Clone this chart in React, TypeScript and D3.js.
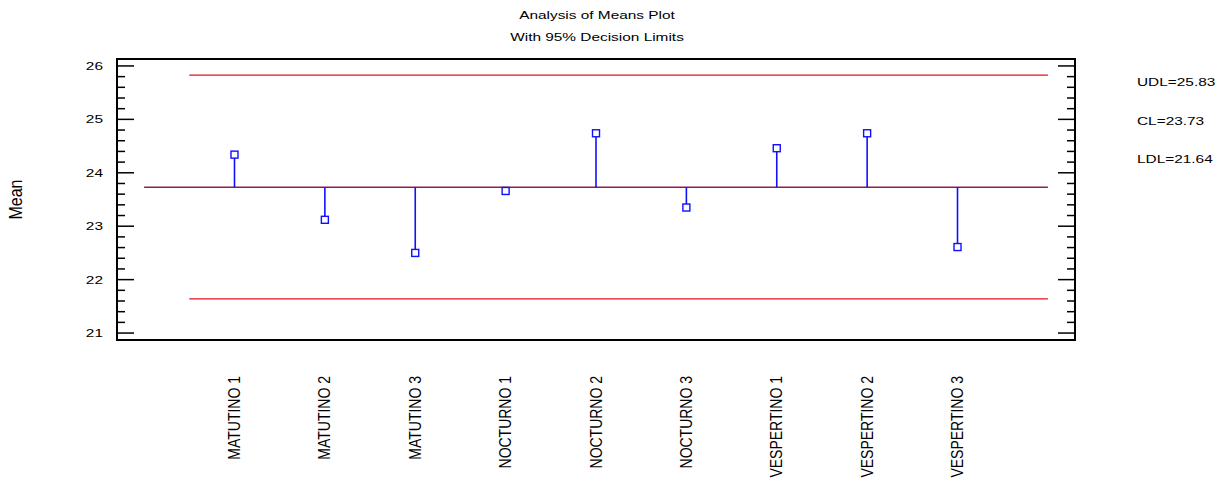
import React from "react";
import * as d3 from "d3";

const categories = [
  "MATUTINO 1", "MATUTINO 2", "MATUTINO 3",
  "NOCTURNO 1", "NOCTURNO 2", "NOCTURNO 3",
  "VESPERTINO 1", "VESPERTINO 2", "VESPERTINO 3",
];
const means = [24.34, 23.12, 22.5, 23.66, 24.74, 23.35, 24.46, 24.74, 22.61];
const UDL = 25.83;
const CL = 23.73;
const LDL = 21.64;
const yTickValues = [21, 22, 23, 24, 25, 26];
const limitLabels = [
  { name: "UDL", value: UDL },
  { name: "CL", value: CL },
  { name: "LDL", value: LDL },
];

const W = 1230;
const H = 485;
const FONT = "'Liberation Sans', Arial, sans-serif";
const SX = 1.4;

const left = 117;
const right = 1075;
const top = 59;
const bottom = 340;

const x = d3.scaleLinear().domain([-1.3, 9.3]).range([left, right]);
const y = d3.scaleLinear().domain([20.87, 26.13]).range([bottom, top]);

function SText({ x, y, anchor = "start", size = 11, sx = SX, children }: any) {
  return (
    <g transform={`translate(${x},${y}) scale(${sx},1)`}>
      <text textAnchor={anchor} fontSize={size} fontFamily={FONT} fill="#000">
        {children}
      </text>
    </g>
  );
}

export default function App() {
  const minor = d3.range(21, 26.001, 0.2).map((v) => +v.toFixed(1));
  const isMajor = (v: number) => Math.abs(v - Math.round(v)) < 1e-6;
  return (
    <svg width={W} height={H} style={{ position: "absolute", left: 0, top: 0, background: "#fff" }}>
      <rect x={0} y={0} width={W} height={H} fill="#fff" />
      {/* titles */}
      <SText x={597} y={19} anchor="middle">Analysis of Means Plot</SText>
      <SText x={597} y={41} anchor="middle">With 95% Decision Limits</SText>

      {/* frame */}
      <rect x={left} y={top} width={right - left} height={bottom - top} fill="none" stroke="#000" strokeWidth={2} />

      {/* ticks */}
      {minor.map((v) => {
        const len = isMajor(v) ? 17 : 8;
        return (
          <g key={v}>
            <line x1={left} x2={left + len} y1={y(v)} y2={y(v)} stroke="#000" strokeWidth={1.5} />
            <line x1={right - len} x2={right} y1={y(v)} y2={y(v)} stroke="#000" strokeWidth={1.5} />
          </g>
        );
      })}
      {yTickValues.map((v) => (
        <SText key={v} x={103} y={y(v) + 4}
          anchor="end">{String(v)}</SText>
      ))}

      {/* axis label */}
      <g transform={`translate(${22},${(top + bottom) / 2}) scale(1.1,1) rotate(-90)`}>
        <text textAnchor="middle" fontSize={16} fontFamily={FONT}>Mean</text>
      </g>

      {/* limit lines */}
      <line x1={x(-0.5)} x2={x(9)} y1={y(UDL)} y2={y(UDL)} stroke="#e0101a" strokeWidth={1.2} />
      <line x1={x(-0.5)} x2={x(9)} y1={y(LDL)} y2={y(LDL)} stroke="#e0101a" strokeWidth={1.2} />
      <line x1={x(-1)} x2={x(9)} y1={y(CL)} y2={y(CL)} stroke="#8a2050" strokeWidth={1.6} />

      {/* stems and markers */}
      {means.map((m, i) => {
        const cx = x(i);
        const cy = y(m);
        const s = 7;
        return (
          <g key={i}>
            <line x1={cx} x2={cx} y1={y(CL)} y2={m > CL ? cy + s / 2 : cy - s / 2} stroke="#1010ff" strokeWidth={1.6} />
            <rect x={cx - s / 2} y={cy - s / 2} width={s} height={s} fill="#fff" stroke="#1010ff" strokeWidth={1.4} />
          </g>
        );
      })}

      {/* category labels */}
      {categories.map((c, i) => (
        <g key={c} transform={`translate(${x(i) + 5.5},${376}) scale(1.17,1) rotate(-90)`}>
          <text textAnchor="end" fontSize={14} fontFamily={FONT}>{c}</text>
        </g>
      ))}

      {/* limit labels */}
      {limitLabels.map((l, i) => (
        <SText key={l.name} x={1137} y={86 + i * 38.5}>{`${l.name}=${l.value.toFixed(2)}`}</SText>
      ))}
    </svg>
  );
}
